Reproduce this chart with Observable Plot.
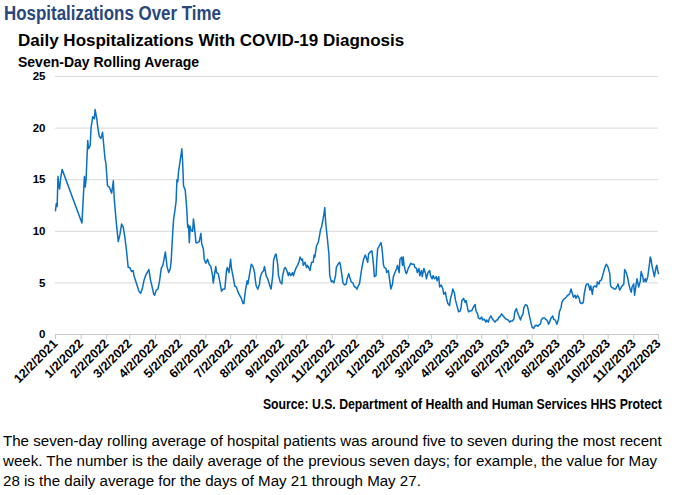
<!DOCTYPE html>
<html>
<head>
<meta charset="utf-8">
<script src="https://cdn.jsdelivr.net/npm/d3@7"></script>
<script src="https://cdn.jsdelivr.net/npm/@observablehq/plot@0.6"></script>
<style>
  body { margin: 0; background: #fff; }
  #page { position: relative; width: 676px; height: 495px; overflow: hidden; font-family: "Liberation Sans", Arial, sans-serif; color: #000; }
  .t { position: absolute; white-space: nowrap; line-height: 1; }
  #title { left: 4px; top: 4px; font-weight: bold; font-size: 19.5px; color: #29477c; transform-origin: left center; }
  #subtitle { left: 18px; top: 32px; font-weight: bold; font-size: 17px; }
  #subtitle2 { left: 18px; top: 55px; font-weight: bold; font-size: 14px; }
  #chart { position: absolute; left: 0; top: 60px; }
  #source { right: 14px; top: 397px; font-weight: bold; font-size: 14px; transform-origin: right center; }
  #note { position: absolute; left: 3px; top: 431px; font-size: 15.1px; line-height: 20px; white-space: nowrap; }
</style>
</head>
<body>
<div id="page">
  <div class="t" id="title" data-fit="217">Hospitalizations Over Time</div>
  <div class="t" id="subtitle">Daily Hospitalizations With COVID-19 Diagnosis</div>
  <div class="t" id="subtitle2">Seven-Day Rolling Average</div>
  <div id="chart"></div>
  <div class="t" id="source" data-fit="399">Source: U.S. Department of Health and Human Services HHS Protect</div>
  <div id="note">The seven-day rolling average of hospital patients was around five to seven during the most recent<br>week. The number is the daily average of the previous seven days; for example, the value for May<br>28 is the daily average for the days of May 21 through May 27.</div>
</div>
<script>
// Seven-day rolling average of daily hospitalizations with a COVID-19 diagnosis
const readings2021 = [
  ["2021-12-02", 12.0], ["2021-12-03", 12.7], ["2021-12-04", 12.4], ["2021-12-05", 15.3],
  ["2021-12-06", 14.4], ["2021-12-07", 14.1], ["2021-12-08", 15.0], ["2021-12-10", 16.0]
];

const readings2022 = [
  ["2022-01-03", 10.8], ["2022-01-06", 15.3], ["2022-01-07", 14.3], ["2022-01-08", 15.0], ["2022-01-10", 18.8],
  ["2022-01-11", 18.0], ["2022-01-13", 18.3], ["2022-01-14", 20.0], ["2022-01-16", 21.1], ["2022-01-18", 20.9],
  ["2022-01-19", 21.8], ["2022-01-21", 20.9], ["2022-01-22", 20.2], ["2022-01-24", 19.2], ["2022-01-26", 19.0],
  ["2022-01-28", 19.6], ["2022-01-29", 18.7], ["2022-01-31", 17.0],
  ["2022-02-01", 16.6], ["2022-02-03", 14.4], ["2022-02-05", 14.3], ["2022-02-06", 14.1], ["2022-02-08", 13.7],
  ["2022-02-10", 14.9], ["2022-02-11", 13.3], ["2022-02-12", 12.3], ["2022-02-14", 10.5], ["2022-02-16", 9.0],
  ["2022-02-18", 9.7], ["2022-02-20", 10.7], ["2022-02-22", 10.4], ["2022-02-24", 9.4], ["2022-02-26", 8.1],
  ["2022-02-28", 6.5],
  ["2022-03-02", 6.5], ["2022-03-04", 6.1], ["2022-03-06", 6.2], ["2022-03-07", 5.7], ["2022-03-09", 5.2],
  ["2022-03-11", 4.7], ["2022-03-13", 4.2], ["2022-03-15", 4.0], ["2022-03-17", 4.4], ["2022-03-19", 5.2],
  ["2022-03-21", 5.7], ["2022-03-23", 6.0], ["2022-03-25", 6.3], ["2022-03-27", 5.3], ["2022-03-29", 4.6],
  ["2022-03-31", 3.9],
  ["2022-04-01", 3.8], ["2022-04-03", 4.3], ["2022-04-05", 4.4], ["2022-04-07", 5.2], ["2022-04-09", 6.4],
  ["2022-04-11", 6.7], ["2022-04-14", 8.0], ["2022-04-15", 7.3], ["2022-04-16", 6.6], ["2022-04-18", 6.0],
  ["2022-04-20", 6.4], ["2022-04-21", 7.1], ["2022-04-23", 10.0], ["2022-04-24", 11.2], ["2022-04-25", 11.7],
  ["2022-04-27", 12.9], ["2022-04-28", 15.0], ["2022-04-29", 14.8], ["2022-04-30", 15.8],
  ["2022-05-02", 16.9], ["2022-05-04", 18.0], ["2022-05-05", 16.6], ["2022-05-06", 14.4], ["2022-05-08", 14.0],
  ["2022-05-09", 13.1], ["2022-05-10", 12.0], ["2022-05-11", 10.4], ["2022-05-12", 10.6], ["2022-05-13", 8.9],
  ["2022-05-14", 10.5], ["2022-05-15", 10.1], ["2022-05-17", 10.0], ["2022-05-18", 11.2], ["2022-05-20", 9.8],
  ["2022-05-21", 8.9], ["2022-05-23", 8.9], ["2022-05-25", 9.0], ["2022-05-27", 9.8], ["2022-05-28", 8.8],
  ["2022-05-30", 8.3], ["2022-05-31", 7.3],
  ["2022-06-02", 6.9], ["2022-06-04", 7.3], ["2022-06-06", 6.8], ["2022-06-08", 6.6], ["2022-06-10", 5.8],
  ["2022-06-11", 5.0], ["2022-06-14", 6.6], ["2022-06-15", 6.0], ["2022-06-17", 5.9], ["2022-06-19", 5.1],
  ["2022-06-21", 4.2], ["2022-06-23", 4.4], ["2022-06-25", 4.4], ["2022-06-27", 6.2], ["2022-06-28", 6.5],
  ["2022-06-30", 6.0],
  ["2022-07-02", 7.3], ["2022-07-03", 6.4], ["2022-07-05", 5.6], ["2022-07-07", 4.7], ["2022-07-09", 4.6],
  ["2022-07-11", 4.1], ["2022-07-13", 3.8], ["2022-07-15", 3.5], ["2022-07-17", 3.0], ["2022-07-18", 3.0],
  ["2022-07-20", 4.3], ["2022-07-22", 5.2], ["2022-07-23", 4.9], ["2022-07-25", 5.9], ["2022-07-27", 6.8],
  ["2022-07-29", 6.6], ["2022-07-31", 6.0],
  ["2022-08-01", 5.2], ["2022-08-02", 4.7], ["2022-08-04", 4.4], ["2022-08-06", 4.9], ["2022-08-07", 5.6],
  ["2022-08-09", 6.0], ["2022-08-11", 6.2], ["2022-08-12", 6.6], ["2022-08-14", 5.7], ["2022-08-16", 5.4],
  ["2022-08-17", 5.1], ["2022-08-19", 4.6], ["2022-08-20", 4.4], ["2022-08-22", 5.7], ["2022-08-23", 7.2],
  ["2022-08-25", 7.7], ["2022-08-26", 7.8], ["2022-08-28", 6.8], ["2022-08-29", 5.7], ["2022-08-31", 5.1],
  ["2022-09-02", 4.9], ["2022-09-03", 5.7], ["2022-09-05", 6.4], ["2022-09-06", 6.5], ["2022-09-08", 6.2],
  ["2022-09-10", 5.7], ["2022-09-11", 6.0], ["2022-09-13", 5.7], ["2022-09-15", 6.0], ["2022-09-16", 5.7],
  ["2022-09-18", 6.2], ["2022-09-19", 6.4], ["2022-09-21", 6.7], ["2022-09-23", 7.1], ["2022-09-24", 7.5],
  ["2022-09-26", 7.2], ["2022-09-27", 7.3], ["2022-09-28", 6.7], ["2022-09-30", 7.0],
  ["2022-10-02", 6.5], ["2022-10-03", 6.7], ["2022-10-05", 6.4], ["2022-10-06", 6.2], ["2022-10-08", 7.0],
  ["2022-10-10", 7.0], ["2022-10-11", 7.7], ["2022-10-12", 7.5], ["2022-10-14", 8.6], ["2022-10-16", 8.9],
  ["2022-10-17", 9.3], ["2022-10-19", 10.2], ["2022-10-20", 10.4], ["2022-10-22", 11.2], ["2022-10-23", 11.7],
  ["2022-10-24", 12.3], ["2022-10-25", 10.9], ["2022-10-27", 9.4], ["2022-10-29", 7.8], ["2022-10-30", 5.7],
  ["2022-11-01", 5.1], ["2022-11-02", 5.2], ["2022-11-04", 5.0], ["2022-11-06", 5.7], ["2022-11-07", 6.5],
  ["2022-11-09", 6.8], ["2022-11-11", 7.0], ["2022-11-12", 6.7], ["2022-11-14", 5.6], ["2022-11-15", 5.0],
  ["2022-11-17", 4.8], ["2022-11-19", 4.9], ["2022-11-20", 5.4], ["2022-11-22", 5.9], ["2022-11-23", 5.6],
  ["2022-11-25", 5.1], ["2022-11-27", 5.0], ["2022-11-29", 4.6], ["2022-11-30", 4.6],
  ["2022-12-02", 4.4], ["2022-12-04", 4.8], ["2022-12-05", 4.9], ["2022-12-07", 6.0], ["2022-12-08", 6.5],
  ["2022-12-10", 7.3], ["2022-12-12", 7.7], ["2022-12-13", 7.5], ["2022-12-15", 7.0], ["2022-12-16", 7.8],
  ["2022-12-18", 8.0], ["2022-12-20", 8.1], ["2022-12-21", 7.5], ["2022-12-22", 6.7], ["2022-12-23", 5.6],
  ["2022-12-25", 5.7], ["2022-12-26", 7.2], ["2022-12-27", 8.3], ["2022-12-29", 8.6], ["2022-12-31", 8.9]
];

const readings2023 = [
  ["2023-01-01", 8.5], ["2023-01-02", 7.7], ["2023-01-03", 6.8], ["2023-01-04", 6.5], ["2023-01-06", 6.4],
  ["2023-01-07", 6.0], ["2023-01-09", 6.2], ["2023-01-10", 5.6], ["2023-01-12", 4.4], ["2023-01-14", 4.9],
  ["2023-01-15", 5.6], ["2023-01-17", 6.0], ["2023-01-19", 6.4], ["2023-01-20", 6.7], ["2023-01-22", 6.0],
  ["2023-01-23", 7.3], ["2023-01-25", 7.5], ["2023-01-26", 6.7], ["2023-01-27", 7.5], ["2023-01-28", 6.7],
  ["2023-01-30", 6.0], ["2023-01-31", 5.9],
  ["2023-02-02", 6.4], ["2023-02-04", 6.7], ["2023-02-05", 6.9], ["2023-02-07", 6.8], ["2023-02-09", 6.8],
  ["2023-02-10", 6.5], ["2023-02-12", 6.4], ["2023-02-13", 6.0], ["2023-02-15", 6.4], ["2023-02-16", 5.7],
  ["2023-02-18", 6.2], ["2023-02-19", 5.6], ["2023-02-21", 6.4], ["2023-02-23", 5.9], ["2023-02-24", 5.4],
  ["2023-02-26", 6.0], ["2023-02-28", 6.2],
  ["2023-03-01", 5.7], ["2023-03-03", 5.4], ["2023-03-04", 5.7], ["2023-03-06", 5.4], ["2023-03-08", 5.6],
  ["2023-03-09", 5.2], ["2023-03-11", 5.6], ["2023-03-12", 4.6], ["2023-03-14", 4.8], ["2023-03-16", 4.4],
  ["2023-03-17", 3.9], ["2023-03-19", 4.1], ["2023-03-20", 3.6], ["2023-03-22", 3.0], ["2023-03-24", 2.8],
  ["2023-03-25", 3.4], ["2023-03-27", 4.0], ["2023-03-28", 4.4], ["2023-03-30", 4.0], ["2023-03-31", 3.4],
  ["2023-04-02", 2.8], ["2023-04-04", 2.2], ["2023-04-06", 2.3], ["2023-04-07", 2.6], ["2023-04-08", 3.3],
  ["2023-04-10", 3.5], ["2023-04-12", 3.1], ["2023-04-13", 3.3], ["2023-04-15", 2.5], ["2023-04-16", 2.2],
  ["2023-04-18", 2.3], ["2023-04-20", 2.3], ["2023-04-21", 2.5], ["2023-04-23", 2.8], ["2023-04-24", 2.9],
  ["2023-04-25", 2.3], ["2023-04-27", 2.0], ["2023-04-28", 1.6], ["2023-04-30", 1.5],
  ["2023-05-02", 1.7], ["2023-05-03", 1.4], ["2023-05-05", 1.5], ["2023-05-07", 1.2], ["2023-05-08", 1.4],
  ["2023-05-10", 1.2], ["2023-05-11", 1.5], ["2023-05-13", 1.8], ["2023-05-15", 1.5], ["2023-05-16", 1.4],
  ["2023-05-18", 1.2], ["2023-05-20", 1.4], ["2023-05-21", 1.4], ["2023-05-23", 1.7], ["2023-05-24", 1.7],
  ["2023-05-26", 2.0], ["2023-05-28", 1.8], ["2023-05-29", 1.7], ["2023-05-31", 1.5],
  ["2023-06-01", 1.5], ["2023-06-03", 1.4], ["2023-06-05", 1.2], ["2023-06-06", 1.3], ["2023-06-08", 1.3],
  ["2023-06-10", 1.5], ["2023-06-11", 2.2], ["2023-06-13", 2.5], ["2023-06-14", 2.2], ["2023-06-16", 1.8],
  ["2023-06-18", 1.4], ["2023-06-19", 1.7], ["2023-06-21", 2.0], ["2023-06-22", 2.6], ["2023-06-24", 2.9],
  ["2023-06-26", 2.8], ["2023-06-27", 2.5], ["2023-06-29", 1.7],
  ["2023-07-01", 1.0], ["2023-07-02", 0.7], ["2023-07-04", 0.6], ["2023-07-05", 0.8], ["2023-07-07", 0.9],
  ["2023-07-09", 0.8], ["2023-07-10", 0.9], ["2023-07-12", 1.0], ["2023-07-13", 1.4], ["2023-07-15", 1.6],
  ["2023-07-17", 1.6], ["2023-07-18", 1.5], ["2023-07-20", 1.4], ["2023-07-22", 1.0], ["2023-07-23", 1.2],
  ["2023-07-25", 1.6], ["2023-07-27", 1.8], ["2023-07-28", 1.5], ["2023-07-30", 1.4],
  ["2023-08-01", 1.0], ["2023-08-03", 1.5], ["2023-08-04", 2.2], ["2023-08-06", 2.6], ["2023-08-07", 3.1],
  ["2023-08-09", 3.4], ["2023-08-11", 3.5], ["2023-08-12", 3.6], ["2023-08-14", 3.8], ["2023-08-16", 3.9],
  ["2023-08-17", 4.1], ["2023-08-18", 4.4], ["2023-08-20", 3.9], ["2023-08-21", 3.6], ["2023-08-23", 3.8],
  ["2023-08-24", 3.5], ["2023-08-26", 3.8], ["2023-08-28", 3.5], ["2023-08-29", 3.1], ["2023-08-31", 3.0],
  ["2023-09-02", 3.1], ["2023-09-03", 3.9], ["2023-09-05", 4.7], ["2023-09-06", 4.9], ["2023-09-08", 4.9],
  ["2023-09-10", 4.3], ["2023-09-11", 4.7], ["2023-09-13", 3.9], ["2023-09-14", 4.6], ["2023-09-16", 4.7],
  ["2023-09-18", 4.6], ["2023-09-19", 5.1], ["2023-09-21", 4.9], ["2023-09-22", 5.2], ["2023-09-24", 5.3],
  ["2023-09-26", 5.9], ["2023-09-27", 6.2], ["2023-09-29", 6.7], ["2023-09-30", 6.8],
  ["2023-10-02", 6.5], ["2023-10-04", 5.9], ["2023-10-05", 4.7], ["2023-10-06", 4.6], ["2023-10-08", 4.5],
  ["2023-10-09", 4.4], ["2023-10-11", 4.4], ["2023-10-13", 4.7], ["2023-10-14", 4.9], ["2023-10-16", 4.3],
  ["2023-10-18", 4.6], ["2023-10-19", 4.7], ["2023-10-21", 4.9], ["2023-10-22", 6.3], ["2023-10-24", 6.0],
  ["2023-10-26", 5.4], ["2023-10-27", 4.9], ["2023-10-29", 4.3], ["2023-10-30", 4.1], ["2023-10-31", 4.6],
  ["2023-11-02", 4.9], ["2023-11-03", 3.8], ["2023-11-05", 4.9], ["2023-11-06", 5.4], ["2023-11-08", 4.6],
  ["2023-11-10", 5.2], ["2023-11-11", 6.1], ["2023-11-13", 5.6], ["2023-11-14", 5.1], ["2023-11-16", 5.4],
  ["2023-11-17", 5.1], ["2023-11-19", 5.6], ["2023-11-21", 6.8], ["2023-11-22", 7.5], ["2023-11-23", 7.3],
  ["2023-11-24", 6.7], ["2023-11-26", 6.0], ["2023-11-27", 5.6], ["2023-11-29", 6.5], ["2023-11-30", 6.7],
  ["2023-12-01", 6.2], ["2023-12-02", 5.9]
];

// Axis ticks: the second day of each month, and every five patients
const tickDates = [
  "2021-12-02", "2022-01-02", "2022-02-02", "2022-03-02", "2022-04-02", "2022-05-02", "2022-06-02",
  "2022-07-02", "2022-08-02", "2022-09-02", "2022-10-02", "2022-11-02", "2022-12-02", "2023-01-02",
  "2023-02-02", "2023-03-02", "2023-04-02", "2023-05-02", "2023-06-02", "2023-07-02", "2023-08-02",
  "2023-09-02", "2023-10-02", "2023-11-02", "2023-12-02"
];
const yTicks = [0, 5, 10, 15, 20, 25];

const rows = [...readings2021, ...readings2022, ...readings2023]
  .map(([d, v]) => ({date: new Date(d), value: v}));
const ticks = tickDates.map((d) => new Date(d));
const fmt = d3.utcFormat("%-m/%-d/%Y");

const chart = Plot.plot({
  width: 676,
  height: 334,
  marginTop: 16,
  marginBottom: 60,
  marginLeft: 55,
  marginRight: 18,
  style: {fontFamily: "'Liberation Sans', Arial, sans-serif", background: "transparent", color: "#000"},
  x: {type: "utc", domain: [ticks[0], ticks[ticks.length - 1]]},
  y: {domain: [0, 25]},
  marks: [
    Plot.gridY(yTicks.slice(1), {stroke: "#d9d9d9", strokeOpacity: 1, strokeWidth: 1}),
    Plot.ruleY([0], {stroke: "#c8c8c8", strokeWidth: 1}),
    Plot.axisY({ticks: yTicks, tickSize: 0, tickPadding: 10, fontSize: 11.5, fontWeight: "bold", label: null}),
    Plot.axisX({ticks, tickSize: 5, tickPadding: 2, tickRotate: -45, tickFormat: fmt,
      stroke: "#c8c8c8", fill: "#000", fontSize: 12.5, fontWeight: "bold", label: null}),
    Plot.line(rows, {x: "date", y: "value", stroke: "#0a70c2", strokeWidth: 1.5})
  ]
});
document.getElementById("chart").appendChild(chart);

// Condense the bold headings horizontally to their set widths
for (const el of document.querySelectorAll("[data-fit]")) {
  const w = el.getBoundingClientRect().width;
  el.style.transform = `scaleX(${+el.dataset.fit / w})`;
}
</script>
</body>
</html>
